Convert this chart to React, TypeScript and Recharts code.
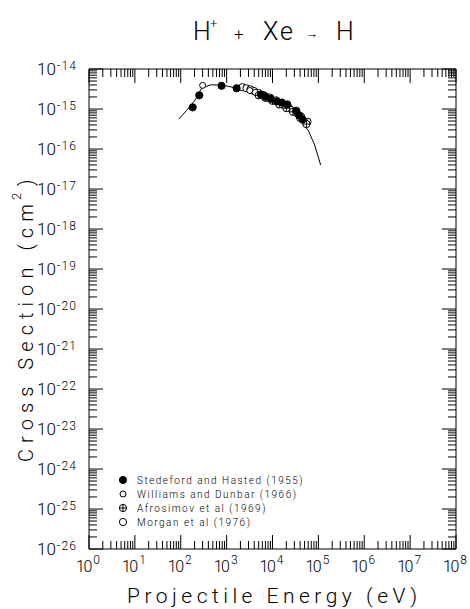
import React from 'react';
import { ScatterChart, Scatter, XAxis, YAxis } from 'recharts';

const W = 470;
const H = 609;
const PLOT = { left: 89, top: 69, right: 456, bottom: 549 };

// Fitted curve
const fitEnergy = [91, 135, 204, 285, 437, 776, 1380, 2750, 7400, 17000, 33000, 60000, 83000, 112000];
const fitSigma = [5.6e-16, 9.3e-16, 1.66e-15, 3.3e-15, 4.0e-15, 4.0e-15, 3.47e-15, 3.0e-15, 1.9e-15, 1.12e-15, 6.3e-16, 2.95e-16, 1.26e-16, 4e-17];

// Stedeford and Hasted (1955)
const stedEnergy = [182, 253, 776, 1650, 5600, 7000, 9000, 12500, 16000, 21000, 33000, 38000, 45000];
const stedSigma = [1.1e-15, 2.2e-15, 3.8e-15, 3.3e-15, 2.3e-15, 2.05e-15, 1.8e-15, 1.55e-15, 1.45e-15, 1.3e-15, 9e-16, 7e-16, 5.5e-16];

// Williams and Dunbar (1966)
const willEnergy = [300, 3200, 4200, 6000, 8500, 12000, 17000, 25000, 35000, 50000];
const willSigma = [3.9e-15, 2.9e-15, 2.6e-15, 2.3e-15, 2.0e-15, 1.7e-15, 1.3e-15, 1.0e-15, 7.5e-16, 5e-16];

// Afrosimov et al (1969)
const afroEnergy = [5000, 7000, 10000, 14000, 20000, 28000, 40000, 55000];
const afroSigma = [2.2e-15, 1.9e-15, 1.6e-15, 1.3e-15, 1.05e-15, 8.5e-16, 6e-16, 4.2e-16];

// Morgan et al (1976)
const morgEnergy = [2200, 2700, 3300, 4000, 5000, 6500, 9000, 12000, 16000, 22000, 30000, 42000, 58000];
const morgSigma = [3.5e-15, 3.3e-15, 3.1e-15, 2.8e-15, 2.5e-15, 2.2e-15, 1.9e-15, 1.6e-15, 1.3e-15, 1.1e-15, 8.5e-16, 6.5e-16, 4.8e-16];

const legendLabels = [
  'Stedeford and Hasted (1955)',
  'Williams and Dunbar (1966)',
  'Afrosimov et al (1969)',
  'Morgan et al (1976)',
];

const xDecades = [0, 1, 2, 3, 4, 5, 6, 7, 8];
const yDecades = [-26, -25, -24, -23, -22, -21, -20, -19, -18, -17, -16, -15, -14];

const zip = (xs: number[], ys: number[]) => xs.map((x, i) => ({ x, y: ys[i] }));

const buildTicks = (decades: number[]) => {
  const t: number[] = [];
  decades.forEach((d, i) => {
    t.push(Math.pow(10, d));
    if (i < decades.length - 1) {
      for (let k = 2; k <= 9; k++) t.push(k * Math.pow(10, d));
    }
  });
  return t;
};
const xTicks = buildTicks(xDecades);
const yTicks = buildTicks(yDecades);

const isMajor = (v: number) => {
  const l = Math.log10(v);
  return Math.abs(l - Math.round(l)) < 1e-6;
};

const FONT = "Roboto, 'Liberation Sans', sans-serif";
const FW = 300;
const MAJ = 14;
const MIN = 8;

const BottomTick = (p: any) => {
  const v = p.payload.value;
  const x = p.x;
  const major = isMajor(v);
  const e = Math.round(Math.log10(v));
  return (
    <g>
      <line x1={x} x2={x} y1={PLOT.bottom} y2={PLOT.bottom - (major ? MAJ : MIN)} stroke="#000" strokeWidth={1} />
      {major && (
        <text
          x={x - 13}
          y={572}
          fontFamily={FONT}
          fontWeight={FW}
          fontSize={16}
          style={{ fill: '#000' }}
          letterSpacing={-1.5}
        >
          <tspan>10</tspan>
          <tspan dx={2.5} dy={-8} fontSize={12} letterSpacing={0}>{e}</tspan>
        </text>
      )}
    </g>
  );
};

const TopTick = (p: any) => {
  const v = p.payload.value;
  const x = p.x;
  const major = isMajor(v);
  return <line x1={x} x2={x} y1={PLOT.top} y2={PLOT.top + (major ? MAJ : MIN)} stroke="#000" strokeWidth={1} />;
};

const LeftTick = (p: any) => {
  const v = p.payload.value;
  const y = p.y;
  const major = isMajor(v);
  const e = Math.round(Math.log10(v));
  return (
    <g>
      <line x1={PLOT.left} x2={PLOT.left + (major ? MAJ : MIN)} y1={y} y2={y} stroke="#000" strokeWidth={1} />
      {major && (
        <text x={37} y={y + 6} fontFamily={FONT} fontWeight={FW} fontSize={17} style={{ fill: '#000' }} letterSpacing={0}>
          <tspan>10</tspan>
          <tspan dx={1} dy={-5} fontSize={12} letterSpacing={1.2}>{e}</tspan>
        </text>
      )}
    </g>
  );
};

const RightTick = (p: any) => {
  const v = p.payload.value;
  const y = p.y;
  const major = isMajor(v);
  return <line x1={PLOT.right} x2={PLOT.right - (major ? MAJ : MIN)} y1={y} y2={y} stroke="#000" strokeWidth={1} />;
};

const FilledDot = (p: any) => <circle cx={p.cx} cy={p.cy} r={3.6} fill="#000" stroke="#000" strokeWidth={1} />;
const SmallOpen = (p: any) => <circle cx={p.cx} cy={p.cy} r={3} fill="#fff" stroke="#000" strokeWidth={1} />;
const CrossDot = (p: any) => (
  <g>
    <circle cx={p.cx} cy={p.cy} r={3.6} fill="#fff" stroke="#000" strokeWidth={1} />
    <line x1={p.cx - 3.6} x2={p.cx + 3.6} y1={p.cy} y2={p.cy} stroke="#000" strokeWidth={1} />
    <line x1={p.cx} x2={p.cx} y1={p.cy - 3.6} y2={p.cy + 3.6} stroke="#000" strokeWidth={1} />
  </g>
);
const OpenDot = (p: any) => <circle cx={p.cx} cy={p.cy} r={3.6} fill="#fff" stroke="#000" strokeWidth={1} />;
const NoDot = () => <g />;

const legendShapes = [FilledDot, SmallOpen, CrossDot, OpenDot];

export default function App() {
  return (
    <div style={{ position: 'absolute', left: 0, top: 0, width: W, height: H, background: '#fff' }}>
      <ScatterChart
        width={W}
        height={H}
        margin={{ top: PLOT.top - 1, right: W - PLOT.right - 1, bottom: H - PLOT.bottom - 1, left: PLOT.left - 1 }}
      >
        <XAxis
          xAxisId="b"
          dataKey="x"
          type="number"
          scale="log"
          domain={[1, 1e8]}
          allowDataOverflow
          ticks={xTicks}
          interval={0}
          tickLine={false}
          tick={BottomTick}
          axisLine={{ stroke: '#000' }}
          height={1}
          orientation="bottom"
        />
        <XAxis
          xAxisId="t"
          dataKey="x"
          type="number"
          scale="log"
          domain={[1, 1e8]}
          allowDataOverflow
          ticks={xTicks}
          interval={0}
          tickLine={false}
          tick={TopTick}
          axisLine={{ stroke: '#000' }}
          height={1}
          orientation="top"
        />
        <YAxis
          yAxisId="l"
          dataKey="y"
          type="number"
          scale="log"
          domain={[1e-26, 1e-14]}
          allowDataOverflow
          ticks={yTicks}
          interval={0}
          tickLine={false}
          tick={LeftTick}
          axisLine={{ stroke: '#000' }}
          width={1}
          orientation="left"
        />
        <YAxis
          yAxisId="r"
          dataKey="y"
          type="number"
          scale="log"
          domain={[1e-26, 1e-14]}
          allowDataOverflow
          ticks={yTicks}
          interval={0}
          tickLine={false}
          tick={RightTick}
          axisLine={{ stroke: '#000' }}
          width={1}
          orientation="right"
        />
        <Scatter
          xAxisId="b"
          yAxisId="l"
          data={zip(fitEnergy, fitSigma)}
          line={{ stroke: '#000', strokeWidth: 1 }}
          lineType="joint"
          shape={NoDot}
          isAnimationActive={false}
        />
        <Scatter xAxisId="b" yAxisId="l" data={zip(morgEnergy, morgSigma)} shape={OpenDot} isAnimationActive={false} />
        <Scatter xAxisId="b" yAxisId="l" data={zip(willEnergy, willSigma)} shape={SmallOpen} isAnimationActive={false} />
        <Scatter xAxisId="b" yAxisId="l" data={zip(afroEnergy, afroSigma)} shape={CrossDot} isAnimationActive={false} />
        <Scatter xAxisId="b" yAxisId="l" data={zip(stedEnergy, stedSigma)} shape={FilledDot} isAnimationActive={false} />
      </ScatterChart>
      <svg
        width={W}
        height={H}
        style={{ position: 'absolute', left: 0, top: 0, pointerEvents: 'none' }}
        fontFamily={FONT}
        fontWeight={FW}
      >
        {/* Title */}
        <text y={40} fontSize={25} fill="#000">
          <tspan x={193}>H</tspan>
          <tspan x={210} y={28} fontSize={13}>+</tspan>
          <tspan x={234} y={40} fontSize={17}>+</tspan>
          <tspan x={263} y={40} fontSize={25} letterSpacing={2}>Xe</tspan>
          <tspan x={305} y={38} fontSize={13}>→</tspan>
          <tspan x={336} y={40} fontSize={25}>H</tspan>
        </text>
        {/* X axis title */}
        <text x={127} y={603} fontSize={21} textLength={290} lengthAdjust="spacing" fill="#000">
          Projectile Energy (eV)
        </text>
        {/* Y axis title */}
        <text transform="translate(33,462) rotate(-90)" x={0} y={0} fontSize={20} fill="#000">
          <tspan textLength={258} lengthAdjust="spacing">Cross Section (cm</tspan>
          <tspan x={262} y={-12} fontSize={13}>2</tspan>
          <tspan x={276} y={0} fontSize={20}>)</tspan>
        </text>
        {/* Legend */}
        {legendLabels.map((lab, i) => {
          const cy = 480 + i * 14;
          const Shape = legendShapes[i];
          return (
            <g key={lab}>
              <Shape cx={123} cy={cy} />
              <text x={137} y={cy + 3.5} fontSize={10} letterSpacing={1.5} fill="#000">
                {lab}
              </text>
            </g>
          );
        })}
      </svg>
    </div>
  );
}
